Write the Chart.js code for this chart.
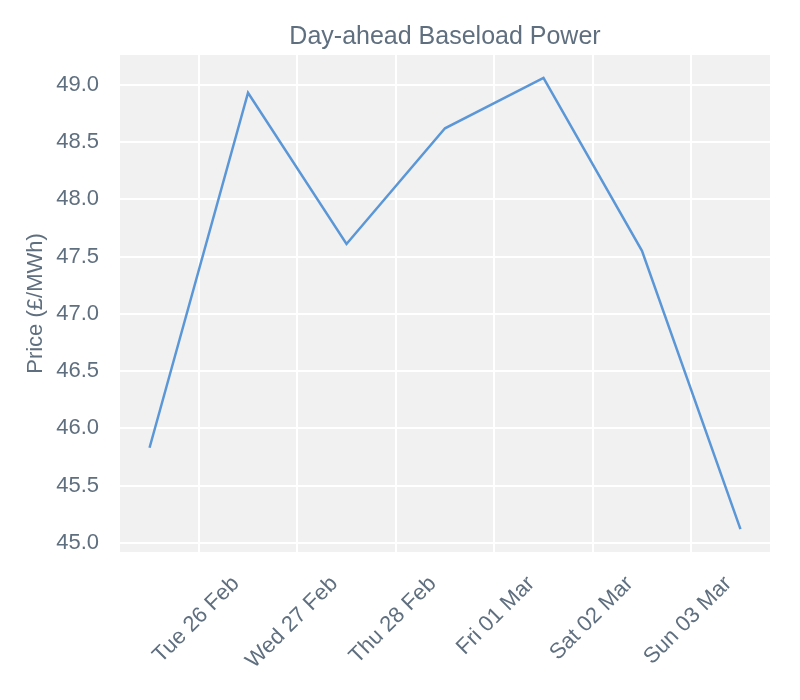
<!DOCTYPE html>
<html>
<head>
<meta charset="utf-8">
<script src="https://cdn.jsdelivr.net/npm/chart.js@4.4.0/dist/chart.umd.min.js"></script>
<style>
  body { margin: 0; background: #fff; }
  #wrap { width: 800px; height: 700px; }
</style>
</head>
<body>
<div id="wrap"><canvas id="price-chart" width="800" height="700"></canvas></div>
<script>
// day positions: 0 = Mon 25 Feb 00:00, points sit at midday
const dayPositions = [0.5, 1.5, 2.5, 3.5, 4.5, 5.5, 6.5];
const prices = [45.83, 48.93, 47.61, 48.62, 49.06, 47.55, 45.12];
const tickDays = [1, 2, 3, 4, 5, 6];
const tickLabels = ['Tue 26 Feb', 'Wed 27 Feb', 'Thu 28 Feb', 'Fri 01 Mar', 'Sat 02 Mar', 'Sun 03 Mar'];
const priceTicks = [45.0, 45.5, 46.0, 46.5, 47.0, 47.5, 48.0, 48.5, 49.0];
const chartTitle = 'Day-ahead Baseload Power';

const textColor = '#5f6f7f';
const fontFamily = 'Liberation Sans, Arial, sans-serif';

// grey panel behind the plot + title centred over the plot area
const panelBg = {
  id: 'panelBg',
  beforeDraw(chart) {
    const { ctx, chartArea } = chart;
    ctx.save();
    ctx.fillStyle = '#f1f1f1';
    ctx.fillRect(chartArea.left, chartArea.top, chartArea.right - chartArea.left, chartArea.bottom - chartArea.top);
    ctx.fillStyle = textColor;
    ctx.font = '25px ' + fontFamily;
    ctx.textAlign = 'center';
    ctx.textBaseline = 'alphabetic';
    ctx.fillText(chartTitle, (chartArea.left + chartArea.right) / 2, 44);
    ctx.restore();
  }
};

new Chart(document.getElementById('price-chart'), {
  type: 'line',
  data: {
    datasets: [{
      data: dayPositions.map((d, i) => ({ x: d, y: prices[i] })),
      borderColor: '#5b97d6',
      borderWidth: 2.5,
      pointRadius: 0,
      tension: 0,
      fill: false
    }]
  },
  options: {
    responsive: false,
    animation: false,
    layout: { padding: { left: 0, right: 30, top: 55, bottom: 0 } },
    plugins: {
      legend: { display: false },
      tooltip: { enabled: false },
      title: { display: false }
    },
    scales: {
      x: {
        type: 'linear',
        min: 0.2,
        max: 6.8,
        border: { display: false },
        grid: { color: '#ffffff', lineWidth: 2, drawTicks: false },
        afterBuildTicks(scale) {
          scale.ticks = tickDays.map(v => ({ value: v }));
        },
        afterFit(scale) {
          scale.height = 148;
          scale.paddingLeft = 0;
          scale.paddingRight = 0;
        },
        ticks: {
          color: textColor,
          font: { family: fontFamily, size: 22 },
          minRotation: 45,
          maxRotation: 45,
          padding: 19,
          labelOffset: 37,
          autoSkip: false,
          callback: (v) => {
            const i = tickDays.indexOf(v);
            return i >= 0 ? tickLabels[i] : '';
          }
        }
      },
      y: {
        min: 44.92,
        max: 49.26,
        border: { display: false },
        grid: { color: '#ffffff', lineWidth: 2, drawTicks: false },
        afterBuildTicks(scale) {
          scale.ticks = priceTicks.map(v => ({ value: v }));
        },
        afterFit(scale) {
          scale.width = 120;
          scale.paddingTop = 0;
          scale.paddingBottom = 0;
        },
        ticks: {
          color: textColor,
          font: { family: fontFamily, size: 22 },
          padding: 21,
          callback: (v) => v.toFixed(1)
        },
        title: {
          display: true,
          text: 'Price (£/MWh)',
          color: textColor,
          font: { family: fontFamily, size: 22 },
          padding: { top: 23, bottom: 0 }
        }
      }
    }
  },
  plugins: [panelBg]
});
</script>
</body>
</html>
